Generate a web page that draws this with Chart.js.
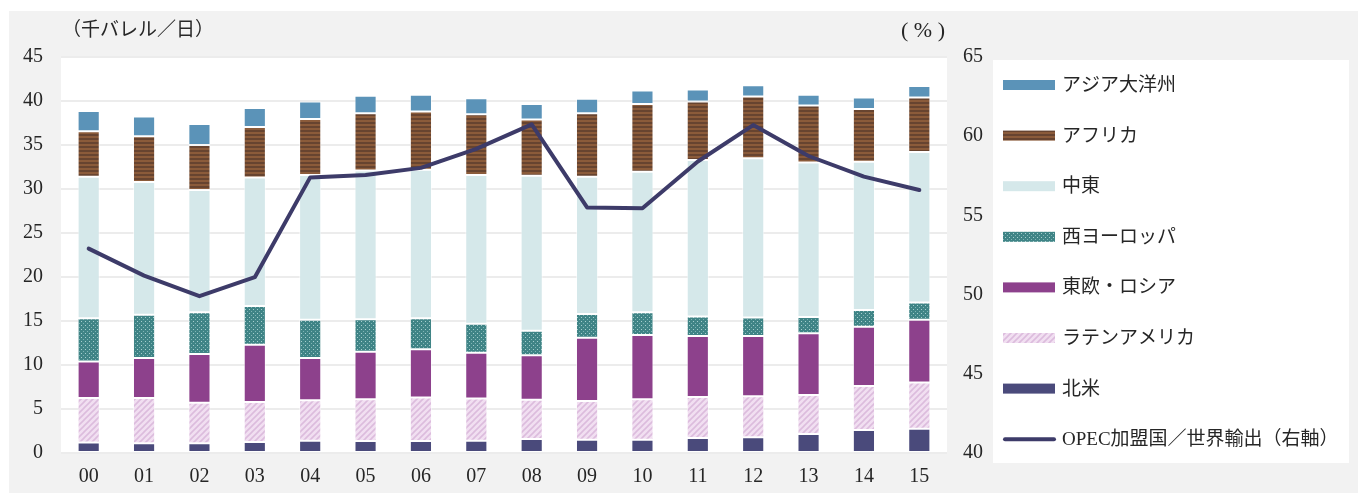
<!DOCTYPE html>
<html>
<head>
<meta charset="utf-8">
<script src="https://cdn.jsdelivr.net/npm/chart.js@4.4.1/dist/chart.umd.min.js"></script>
<style>
  html, body { margin: 0; padding: 0; background: #fff; }
  #wrap { width: 1358px; height: 493px; }
</style>
</head>
<body>
<div id="wrap"><canvas id="c"></canvas></div>
<script>
// data (千バレル/日, and % for the line)
const years = ['00','01','02','03','04','05','06','07','08','09','10','11','12','13','14','15'];
const northAmerica = [1.2, 1.1, 1.1, 1.25, 1.4, 1.35, 1.35, 1.4, 1.6, 1.5, 1.5, 1.7, 1.8, 2.15, 2.6, 2.75];
const latinAmerica = [5.05, 5.15, 4.6, 4.55, 4.6, 4.75, 4.95, 4.8, 4.45, 4.4, 4.6, 4.65, 4.65, 4.45, 5.0, 5.25];
const eastEurope = [4.15, 4.55, 5.55, 6.5, 4.8, 5.4, 5.5, 5.2, 5.05, 7.2, 7.3, 6.95, 6.85, 7.0, 6.75, 7.15];
const westEurope = [4.9, 4.9, 4.75, 4.4, 4.35, 3.7, 3.5, 3.3, 2.8, 2.7, 2.6, 2.2, 2.1, 1.85, 1.9, 1.95];
const middleEast = [16.1, 15.1, 13.9, 14.6, 16.45, 16.9, 16.9, 16.9, 17.6, 15.6, 15.95, 17.8, 18.1, 17.55, 16.85, 17.1];
const africa = [5.15, 5.2, 5.1, 5.75, 6.35, 6.5, 6.6, 6.9, 6.4, 7.2, 7.7, 6.65, 7.0, 6.5, 6.0, 6.2];
const asiaOceania = [2.3, 2.25, 2.4, 2.15, 2.0, 2.0, 1.9, 1.8, 1.75, 1.65, 1.55, 1.35, 1.3, 1.2, 1.3, 1.3];
const opecShare = [52.9, 51.2, 49.9, 51.1, 57.4, 57.55, 58.0, 59.2, 60.75, 55.5, 55.45, 58.4, 60.7, 58.75, 57.45, 56.6];

const leftTicks = [0, 5, 10, 15, 20, 25, 30, 35, 40, 45];
const rightTicks = [40, 45, 50, 55, 60, 65];

const NUM_FONT = "'Liberation Serif', 'Noto Sans CJK JP', serif";
const TXT_COLOR = '#262626';

// small canvas patterns for the textured series
function makePattern(w, h, draw) {
  const c = document.createElement('canvas');
  c.width = w; c.height = h;
  const g = c.getContext('2d');
  draw(g, w, h);
  return g.createPattern(c, 'repeat');
}
const africaFill = makePattern(4, 4, (g) => {
  g.fillStyle = '#8b5b3a'; g.fillRect(0, 0, 4, 4);
  g.fillStyle = '#674430'; g.fillRect(0, 2, 4, 2);
});
const westEuropeFill = makePattern(4, 4, (g) => {
  g.fillStyle = '#3f8486'; g.fillRect(0, 0, 4, 4);
  g.fillStyle = '#a7cfcf'; g.fillRect(1, 1, 1, 1);
  g.fillStyle = '#7fb4b5'; g.fillRect(3, 3, 1, 1);
});
const latinFill = makePattern(6, 6, (g) => {
  g.fillStyle = '#f1dff1'; g.fillRect(0, 0, 6, 6);
  g.strokeStyle = '#dcbcdd'; g.lineWidth = 1.6;
  g.beginPath();
  g.moveTo(-1, 7); g.lineTo(7, -1);
  g.moveTo(-4, 4); g.lineTo(4, -4);
  g.moveTo(2, 10); g.lineTo(10, 2);
  g.stroke();
});

const barBase = {
  type: 'bar',
  yAxisID: 'y',
  order: 1,
  borderWidth: 1,
  borderColor: 'rgba(255,255,255,0.55)',
  borderSkipped: false,
  categoryPercentage: 1,
  barPercentage: 0.4
};

const datasets = [
  Object.assign({}, barBase, { label: '北米', data: northAmerica, backgroundColor: '#4a4a7b' }),
  Object.assign({}, barBase, { label: 'ラテンアメリカ', data: latinAmerica, backgroundColor: latinFill }),
  Object.assign({}, barBase, { label: '東欧・ロシア', data: eastEurope, backgroundColor: '#8d418c' }),
  Object.assign({}, barBase, { label: '西ヨーロッパ', data: westEurope, backgroundColor: westEuropeFill }),
  Object.assign({}, barBase, { label: '中東', data: middleEast, backgroundColor: '#d5e8ea' }),
  Object.assign({}, barBase, { label: 'アフリカ', data: africa, backgroundColor: africaFill }),
  Object.assign({}, barBase, { label: 'アジア大洋州', data: asiaOceania, backgroundColor: '#5b93b8' }),
  {
    type: 'line',
    label: 'OPEC加盟国／世界輸出（右軸）',
    data: opecShare,
    yAxisID: 'y2',
    order: 0,
    borderColor: '#3d3b69',
    backgroundColor: '#3d3b69',
    borderWidth: 4,
    pointRadius: 0,
    tension: 0,
    borderCapStyle: 'round',
    borderJoinStyle: 'round'
  }
];

// grey frame, white plot area and legend panel
const panels = {
  id: 'panels',
  beforeDraw(chart) {
    const { ctx, chartArea: a } = chart;
    ctx.save();
    ctx.fillStyle = '#ffffff';
    ctx.fillRect(0, 0, chart.width, chart.height);
    ctx.fillStyle = '#f2f2f2';
    ctx.fillRect(9, 11, chart.width - 9, chart.height - 11);
    ctx.fillStyle = '#ffffff';
    ctx.fillRect(a.left, a.top, a.right - a.left, a.bottom - a.top);
    ctx.fillRect(993, 60, 356, 403);
    ctx.restore();
  },
  afterDraw(chart) {
    const { ctx, chartArea: a } = chart;
    ctx.save();
    ctx.fillStyle = TXT_COLOR;
    ctx.textBaseline = 'middle';
    ctx.font = "19px " + NUM_FONT;
    ctx.textAlign = 'left';
    ctx.fillText('（千バレル／日）', 62, 31);
    ctx.font = "22px " + NUM_FONT;
    ctx.textAlign = 'right';
    ctx.fillText('( % )', a.right - 2, 31);

    // legend, top to bottom: bars in reverse stacking order, then the line
    const order = [6, 5, 4, 3, 2, 1, 0, 7];
    ctx.font = "19px " + NUM_FONT;
    ctx.textAlign = 'left';
    order.forEach((di, i) => {
      const ds = chart.data.datasets[di];
      const cy = 85 + i * 50.6;
      if (ds.type === 'line') {
        ctx.strokeStyle = ds.borderColor;
        ctx.lineWidth = 4;
        ctx.lineCap = 'round';
        ctx.beginPath();
        ctx.moveTo(1005, cy);
        ctx.lineTo(1054, cy);
        ctx.stroke();
      } else {
        ctx.fillStyle = ds.backgroundColor;
        ctx.fillRect(1003, cy - 5, 52, 10);
      }
      ctx.fillStyle = TXT_COLOR;
      ctx.fillText(ds.label, 1062, cy + 1);
    });
    ctx.restore();
  }
};

new Chart(document.getElementById('c'), {
  data: { labels: years, datasets: datasets },
  options: {
    responsive: true,
    maintainAspectRatio: false,
    animation: false,
    layout: { padding: { left: 0, right: 365, top: 57, bottom: 0 } },
    plugins: {
      legend: { display: false },
      tooltip: { enabled: false }
    },
    scales: {
      x: {
        stacked: true,
        grid: { display: false, drawTicks: false },
        border: { display: false },
        ticks: { color: TXT_COLOR, font: { family: NUM_FONT, size: 20 }, padding: 12, maxRotation: 0 },
        afterFit(s) { s.height = 40; }
      },
      y: {
        stacked: true,
        position: 'left',
        min: 0,
        max: 45,
        afterBuildTicks(s) { s.ticks = leftTicks.map(v => ({ value: v })); },
        grid: { color: '#ececec', lineWidth: 2, drawTicks: false },
        border: { display: false },
        ticks: { color: TXT_COLOR, font: { family: NUM_FONT, size: 20 }, padding: 18 },
        afterFit(s) { s.width = 61; }
      },
      y2: {
        position: 'right',
        min: 40,
        max: 65,
        afterBuildTicks(s) { s.ticks = rightTicks.map(v => ({ value: v })); },
        grid: { display: false, drawTicks: false },
        border: { display: false },
        ticks: { color: TXT_COLOR, font: { family: NUM_FONT, size: 20 }, padding: 16 },
        afterFit(s) { s.width = 46; }
      }
    }
  },
  plugins: [panels]
});
</script>
</body>
</html>
